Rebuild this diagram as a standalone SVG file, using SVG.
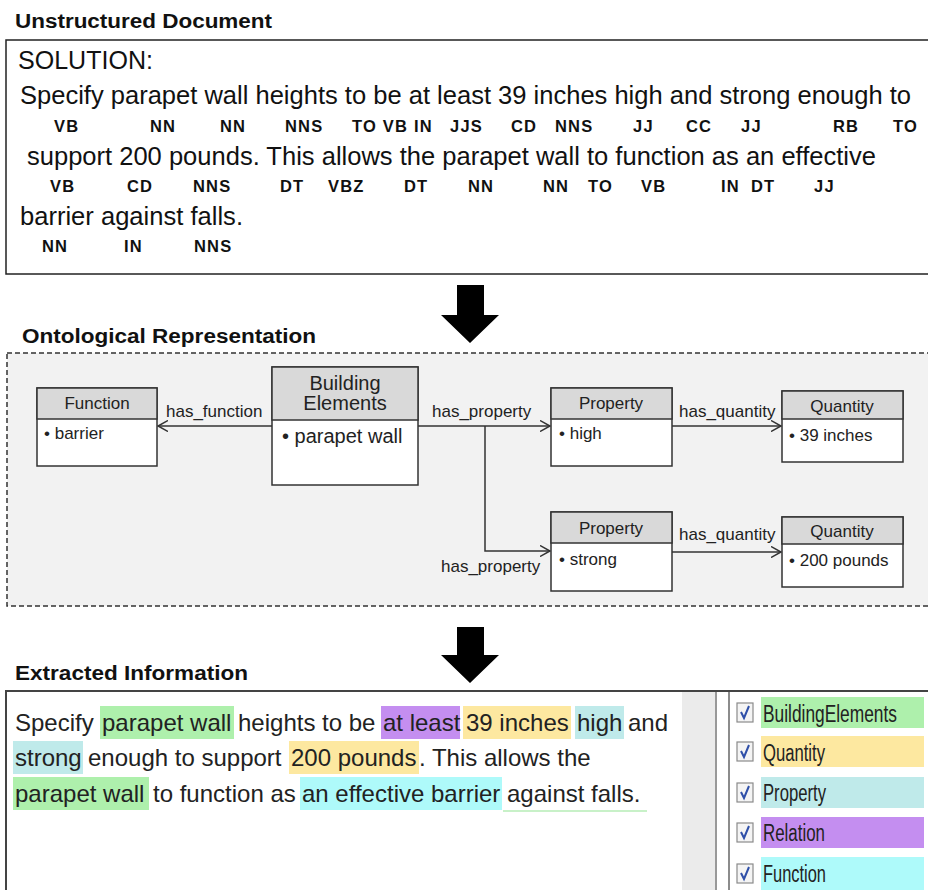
<svg xmlns="http://www.w3.org/2000/svg" width="928" height="890" viewBox="0 0 928 890">
<defs>
<style>
.title{font-family:"Liberation Sans",Arial,sans-serif;font-weight:bold;font-size:20px;fill:#111}
.doc{font-family:"Liberation Sans",Arial,sans-serif;font-size:26px;fill:#111}
.tag{font-family:"Liberation Sans",Arial,sans-serif;font-weight:bold;font-size:16.5px;letter-spacing:1.2px;fill:#111}
.hdr{fill:#d9d9d9;stroke:#333;stroke-width:1.5}
.body{fill:#fff;stroke:#333;stroke-width:1.5}
.nt{font-family:"Liberation Sans",Arial,sans-serif;font-size:17px;fill:#222}
.bt{font-family:"Liberation Sans",Arial,sans-serif;font-size:20px;fill:#222}
.lbl{font-family:"Liberation Sans",Arial,sans-serif;font-size:17px;fill:#222}
.conn{fill:none;stroke:#333;stroke-width:1.5}
.ex{font-family:"Liberation Sans",Arial,sans-serif;font-size:24px;fill:#222}
.leg{font-family:"Liberation Sans",Arial,sans-serif;font-size:23px;fill:#222}
.cb{fill:#f4f4f4;stroke:#8a8a8a;stroke-width:1.2}
.ck{fill:none;stroke:#2f4fa8;stroke-width:2}
.big{fill:#000}
</style>
<marker id="open" markerUnits="userSpaceOnUse" markerWidth="12" markerHeight="12" refX="10" refY="6" orient="auto">
<path d="M0,0.5 L10,6 L0,11.5" fill="none" stroke="#333" stroke-width="1.5"/>
</marker>
</defs>
<rect width="928" height="890" fill="#fff"/>

<!-- Unstructured Document -->
<g id="unstructured">
<text class="title" x="15" y="28" textLength="257" lengthAdjust="spacingAndGlyphs">Unstructured Document</text>
<rect x="6" y="40" width="926" height="234" fill="#fff" stroke="#222" stroke-width="1.5"/>
<text class="doc" x="18" y="69" textLength="135" lengthAdjust="spacingAndGlyphs">SOLUTION:</text>
<text class="doc" x="20" y="104" textLength="891" lengthAdjust="spacingAndGlyphs">Specify parapet wall heights to be at least 39 inches high and strong enough to</text>
<text class="doc" x="27" y="165" textLength="849" lengthAdjust="spacingAndGlyphs">support 200 pounds. This allows the parapet  wall to function as an effective</text>
<text class="doc" x="20" y="225" textLength="223" lengthAdjust="spacingAndGlyphs">barrier against falls.</text>
<g class="tag">
<text x="54" y="132">VB</text><text x="150" y="132">NN</text><text x="220" y="132">NN</text><text x="285" y="132">NNS</text><text x="352" y="132">TO VB IN</text><text x="450" y="132">JJS</text><text x="511" y="132">CD</text><text x="555" y="132">NNS</text><text x="633" y="132">JJ</text><text x="686" y="132">CC</text><text x="741" y="132">JJ</text><text x="833" y="132">RB</text><text x="893" y="132">TO</text>
<text x="50" y="192">VB</text><text x="127" y="192">CD</text><text x="193" y="192">NNS</text><text x="280" y="192">DT</text><text x="328" y="192">VBZ</text><text x="404" y="192">DT</text><text x="468" y="192">NN</text><text x="543" y="192">NN</text><text x="588" y="192">TO</text><text x="641" y="192">VB</text><text x="721" y="192">IN</text><text x="751" y="192">DT</text><text x="814" y="192">JJ</text>
<text x="42" y="252">NN</text><text x="124" y="252">IN</text><text x="194" y="252">NNS</text>
</g>
</g>

<!-- big arrows -->
<g id="arrow1"><path class="big" d="M457,285 H484 V315 H499 L470,343 L441,315 H457 Z"/></g>
<g id="arrow2"><path class="big" d="M457,627 H484 V655 H499 L470,683 L441,655 H457 Z"/></g>

<!-- Ontological Representation -->
<g id="ontology">
<text class="title" x="22" y="343" textLength="294" lengthAdjust="spacingAndGlyphs">Ontological Representation</text>
<rect x="7" y="353" width="930" height="253" fill="#f2f2f2" stroke="#333" stroke-width="1.5" stroke-dasharray="5,3"/>
</g>

<g id="connectors">
<line class="conn" x1="272" y1="426" x2="158" y2="426" marker-end="url(#open)"/>
<line class="conn" x1="418" y1="426" x2="550" y2="426" marker-end="url(#open)"/>
<path class="conn" d="M485,426 V551 H550" marker-end="url(#open)"/>
<line class="conn" x1="672" y1="426" x2="781" y2="426" marker-end="url(#open)"/>
<line class="conn" x1="672" y1="552" x2="781" y2="552" marker-end="url(#open)"/>
<text class="lbl" x="166" y="417">has_function</text>
<text class="lbl" x="432" y="417">has_property</text>
<text class="lbl" x="679" y="417">has_quantity</text>
<text class="lbl" x="679" y="540">has_quantity</text>
<text class="lbl" x="441" y="572">has_property</text>
</g>

<g id="node-function">
<rect class="body" x="37" y="388" width="120" height="78"/>
<rect class="hdr" x="37" y="388" width="120" height="31"/>
<text class="nt" x="97" y="409" text-anchor="middle">Function</text>
<text class="nt" x="44" y="439">•  barrier</text>
</g>
<g id="node-building">
<rect class="body" x="272" y="367" width="146" height="118"/>
<rect class="hdr" x="272" y="367" width="146" height="53"/>
<text class="bt" x="345" y="390" text-anchor="middle">Building</text>
<text class="bt" x="345" y="410" text-anchor="middle">Elements</text>
<text class="bt" x="282" y="443">•  parapet wall</text>
</g>
<g id="node-property1">
<rect class="body" x="551" y="388" width="121" height="78"/>
<rect class="hdr" x="551" y="388" width="121" height="31"/>
<text class="nt" x="611" y="409" text-anchor="middle">Property</text>
<text class="nt" x="559" y="439">•  high</text>
</g>
<g id="node-quantity1">
<rect class="body" x="782" y="391" width="121" height="71"/>
<rect class="hdr" x="782" y="391" width="121" height="28"/>
<text class="nt" x="842" y="412" text-anchor="middle">Quantity</text>
<text class="nt" x="789" y="441">•  39 inches</text>
</g>
<g id="node-property2">
<rect class="body" x="551" y="512" width="121" height="79"/>
<rect class="hdr" x="551" y="512" width="121" height="31"/>
<text class="nt" x="611" y="534" text-anchor="middle">Property</text>
<text class="nt" x="559" y="565">•  strong</text>
</g>
<g id="node-quantity2">
<rect class="body" x="782" y="517" width="121" height="70"/>
<rect class="hdr" x="782" y="517" width="121" height="27"/>
<text class="nt" x="842" y="537" text-anchor="middle">Quantity</text>
<text class="nt" x="789" y="566">•  200 pounds</text>
</g>

<!-- Extracted Information -->
<g id="extracted">
<text class="title" x="15" y="680" textLength="233" lengthAdjust="spacingAndGlyphs">Extracted Information</text>
<path d="M6,890 V691 H928" fill="none" stroke="#444" stroke-width="2"/>
<rect x="100" y="706" width="134" height="33" fill="#aef0ac"/>
<rect x="381" y="706" width="79" height="33" fill="#c48ef0"/>
<rect x="463" y="706" width="108" height="33" fill="#fde8a0"/>
<rect x="575" y="706" width="49" height="33" fill="#bfeaea"/>
<rect x="13" y="741" width="70" height="33" fill="#bfeaea"/>
<rect x="289" y="741" width="130" height="33" fill="#fde8a0"/>
<rect x="13" y="777" width="136" height="33" fill="#aef0ac"/>
<rect x="300" y="777" width="202" height="33" fill="#aefafa"/>
<line x1="503" y1="811" x2="647" y2="811" stroke="#b6ecb6" stroke-width="1.5"/>
<text class="ex" y="731"><tspan x="15">Specify</tspan><tspan x="102">parapet wall</tspan><tspan x="238">heights to be</tspan><tspan x="383">at least</tspan><tspan x="466">39 inches</tspan><tspan x="577">high</tspan><tspan x="628">and</tspan></text>
<text class="ex" y="766"><tspan x="15">strong</tspan><tspan x="88">enough to support</tspan><tspan x="291">200 pounds</tspan><tspan x="419">. This allows the</tspan></text>
<text class="ex" y="802"><tspan x="15">parapet wall</tspan><tspan x="153">to function as</tspan><tspan x="302">an effective barrier</tspan><tspan x="507">against falls.</tspan></text>
</g>

<g id="legend">
<rect x="682" y="692" width="33" height="198" fill="#ebebeb"/>
<line x1="716" y1="692" x2="716" y2="890" stroke="#999" stroke-width="2"/>
<line x1="729" y1="692" x2="729" y2="890" stroke="#666" stroke-width="1.5"/>
<rect x="761" y="697" width="163" height="31" fill="#aef0ac"/>
<rect x="761" y="736" width="163" height="31" fill="#fde8a0"/>
<rect x="761" y="777" width="163" height="31" fill="#bfeaea"/>
<rect x="761" y="817" width="163" height="31" fill="#c48ef0"/>
<rect x="761" y="857" width="163" height="33" fill="#aefafa"/>
<rect class="cb" x="737" y="703" width="16" height="19"/><path class="ck" d="M741,712 L744,718 L749,706"/>
<rect class="cb" x="737" y="742" width="16" height="19"/><path class="ck" d="M741,751 L744,757 L749,745"/>
<rect class="cb" x="737" y="783" width="16" height="19"/><path class="ck" d="M741,792 L744,798 L749,786"/>
<rect class="cb" x="737" y="823" width="16" height="19"/><path class="ck" d="M741,832 L744,838 L749,826"/>
<rect class="cb" x="737" y="864" width="16" height="19"/><path class="ck" d="M741,873 L744,879 L749,867"/>
<text class="leg" x="763" y="722" textLength="134" lengthAdjust="spacingAndGlyphs">BuildingElements</text>
<text class="leg" x="763" y="761" textLength="62" lengthAdjust="spacingAndGlyphs">Quantity</text>
<text class="leg" x="763" y="801" textLength="63" lengthAdjust="spacingAndGlyphs">Property</text>
<text class="leg" x="763" y="841" textLength="62" lengthAdjust="spacingAndGlyphs">Relation</text>
<text class="leg" x="763" y="882" textLength="63" lengthAdjust="spacingAndGlyphs">Function</text>
</g>
</svg>
